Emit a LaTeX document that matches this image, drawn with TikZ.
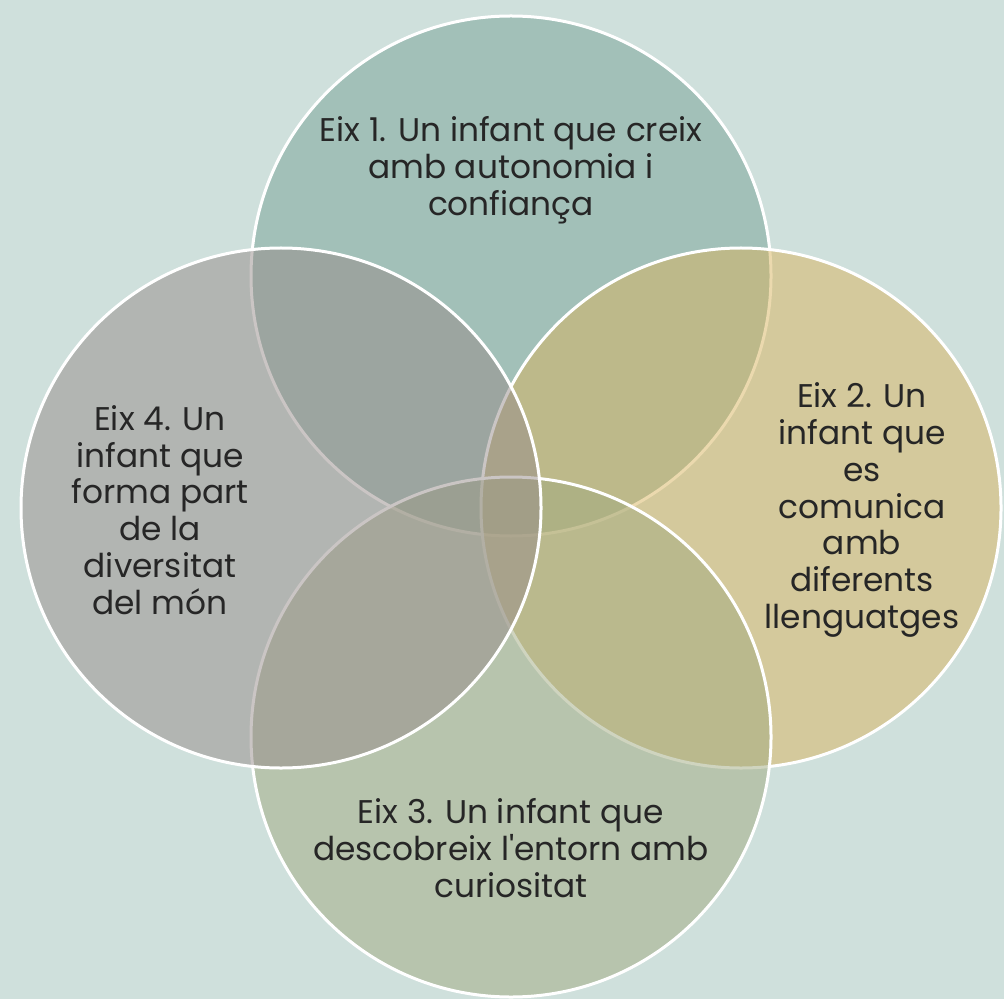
\documentclass[tikz,border=0pt]{standalone}
\usepackage{fontspec}
\newfontfamily\popfont{Poppins}
\definecolor{bgc}{RGB}{207,224,220}
\definecolor{cone}{RGB}{119,162,150}
\definecolor{ctwo}{RGB}{217,180,94}
\definecolor{cthree}{RGB}{161,170,128}
\definecolor{cfour}{RGB}{151,140,138}
\definecolor{txt}{RGB}{38,38,38}
\tikzset{
  ring/.style={circle, draw=white, line width=1.5pt, minimum size=260pt, inner sep=0pt, fill opacity=0.5},
  lbl/.style={align=center, text=txt, font=\popfont\fontsize{16.4}{18.4}\selectfont, inner sep=0pt}
}
\begin{document}
\begin{tikzpicture}[x=0.5pt,y=-0.5pt]
\fill[bgc] (0,0) rectangle (1004,999);
\useasboundingbox (0,0) rectangle (1004,999);
\node[ring, fill=cone] (c1) at (511,276) {};
\node[ring, fill=ctwo] (c2) at (741,508) {};
\node[ring, fill=cthree] (c3) at (511,737) {};
\node[ring, fill=cfour] (c4) at (281,508) {};
\node[lbl] (t1) at (511,170) {Eix 1. Un infant que creix\\amb autonomia i\\confiança};
\node[lbl] (t2) at (862,510) {Eix 2. Un\\infant que\\es\\comunica\\amb\\diferents\\llenguatges};
\node[lbl] (t3) at (511,848) {Eix 3. Un infant que\\descobreix l'entorn amb\\curiositat};
\node[lbl] (t4) at (160,510) {Eix 4. Un\\infant que\\forma part\\de la\\diversitat\\del món};
\end{tikzpicture}
\end{document}
